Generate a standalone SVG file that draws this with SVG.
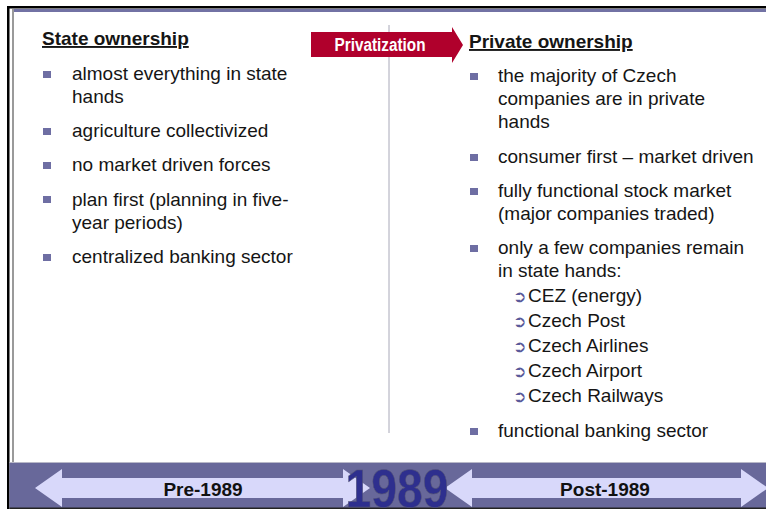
<svg xmlns="http://www.w3.org/2000/svg" width="766" height="509" viewBox="0 0 766 509">
<defs>
<style>
.t{font-family:"Liberation Sans",Arial,sans-serif;font-size:19px;fill:#151515}
.h{font-family:"Liberation Sans",Arial,sans-serif;font-size:19px;font-weight:bold;fill:#151515;text-decoration:underline}
.b{fill:#6e6ea3}
.sb{font-family:"DejaVu Sans",sans-serif;font-size:16px;font-weight:bold;fill:#5a5a9a}
.lbl{font-family:"Liberation Sans",Arial,sans-serif;font-size:19px;font-weight:bold;fill:#111;text-anchor:middle}
.arr{fill:#d8d8fa}
</style>
</defs>
<rect x="0" y="0" width="766" height="509" fill="#fff"/>
<!-- frame -->
<rect x="14" y="9" width="752" height="3" fill="#7272a4"/>
<rect x="12" y="9" width="2" height="454" fill="#9a9a9a"/>
<rect x="7" y="6" width="759" height="2.5" fill="#000"/>
<rect x="7" y="6" width="2.5" height="503" fill="#000"/>
<!-- divider -->
<line x1="389" y1="25" x2="389" y2="433" stroke="#a8a8b8" stroke-width="1"/>

<g id="privatization">
<path d="M311,32 H452 V27 L463,45 L452,63 V57 H311 Z" fill="#b0002c"/>
<text x="380" y="51" font-family="'Liberation Sans',Arial,sans-serif" font-size="17.5" font-weight="bold" fill="#fff" text-anchor="middle" textLength="91" lengthAdjust="spacingAndGlyphs">Privatization</text>
</g>

<g id="state-ownership">
<text class="h" x="42" y="45">State ownership</text>
<rect class="b" x="43" y="71" width="8" height="7"/>
<text class="t" x="72" y="80">almost everything in state</text>
<text class="t" x="72" y="103">hands</text>
<rect class="b" x="43" y="128" width="8" height="7"/>
<text class="t" x="72" y="137">agriculture collectivized</text>
<rect class="b" x="43" y="162" width="8" height="7"/>
<text class="t" x="72" y="171">no market driven forces</text>
<rect class="b" x="43" y="196" width="8" height="7"/>
<text class="t" x="72" y="206">plan first (planning in five-</text>
<text class="t" x="72" y="229">year periods)</text>
<rect class="b" x="43" y="254" width="8" height="7"/>
<text class="t" x="72" y="263">centralized banking sector</text>
</g>

<g id="private-ownership">
<text class="h" x="469" y="48">Private ownership</text>
<rect class="b" x="470" y="73" width="8" height="7"/>
<text class="t" x="498" y="82">the majority of Czech</text>
<text class="t" x="498" y="105">companies are in private</text>
<text class="t" x="498" y="128">hands</text>
<rect class="b" x="470" y="154" width="8" height="7"/>
<text class="t" x="498" y="163">consumer first – market driven</text>
<rect class="b" x="470" y="188" width="8" height="7"/>
<text class="t" x="498" y="197">fully functional stock market</text>
<text class="t" x="498" y="220">(major companies traded)</text>
<rect class="b" x="470" y="245" width="8" height="7"/>
<text class="t" x="498" y="254">only a few companies remain</text>
<text class="t" x="498" y="277">in state hands:</text>
<text class="sb" x="513" y="302">➲</text><text class="t" x="528" y="302">CEZ (energy)</text>
<text class="sb" x="513" y="327">➲</text><text class="t" x="528" y="327">Czech Post</text>
<text class="sb" x="513" y="352">➲</text><text class="t" x="528" y="352">Czech Airlines</text>
<text class="sb" x="513" y="377">➲</text><text class="t" x="528" y="377">Czech Airport</text>
<text class="sb" x="513" y="402">➲</text><text class="t" x="528" y="402">Czech Railways</text>
<rect class="b" x="470" y="428" width="8" height="7"/>
<text class="t" x="498" y="437">functional banking sector</text>
</g>

<g id="timeline">
<rect x="9.5" y="462" width="757" height="1" fill="#b8b8c8"/>
<rect x="9.5" y="463" width="757" height="45" fill="#68689a"/>
<rect x="9.5" y="507.5" width="757" height="1.5" fill="#222"/>
<g id="pre-1989">
<path class="arr" d="M35,488 L62,469 V478 H343 V469 L370,488 L343,507 V498 H62 V507 Z"/>
<text class="lbl" x="203" y="496">Pre-1989</text>
</g>
<g id="post-1989">
<path class="arr" d="M445,488 L472,469 V478 H741 V469 L768,488 L741,507 V498 H472 V507 Z"/>
<text class="lbl" x="605" y="496">Post-1989</text>
</g>
<g id="year">
<text x="397" y="506.5" font-family="'Liberation Sans',Arial,sans-serif" font-size="54" font-weight="bold" fill="#2e2f8e" stroke="#555577" stroke-width="0.6" text-anchor="middle" textLength="103" lengthAdjust="spacingAndGlyphs">1989</text>
</g>
</g>
</svg>
